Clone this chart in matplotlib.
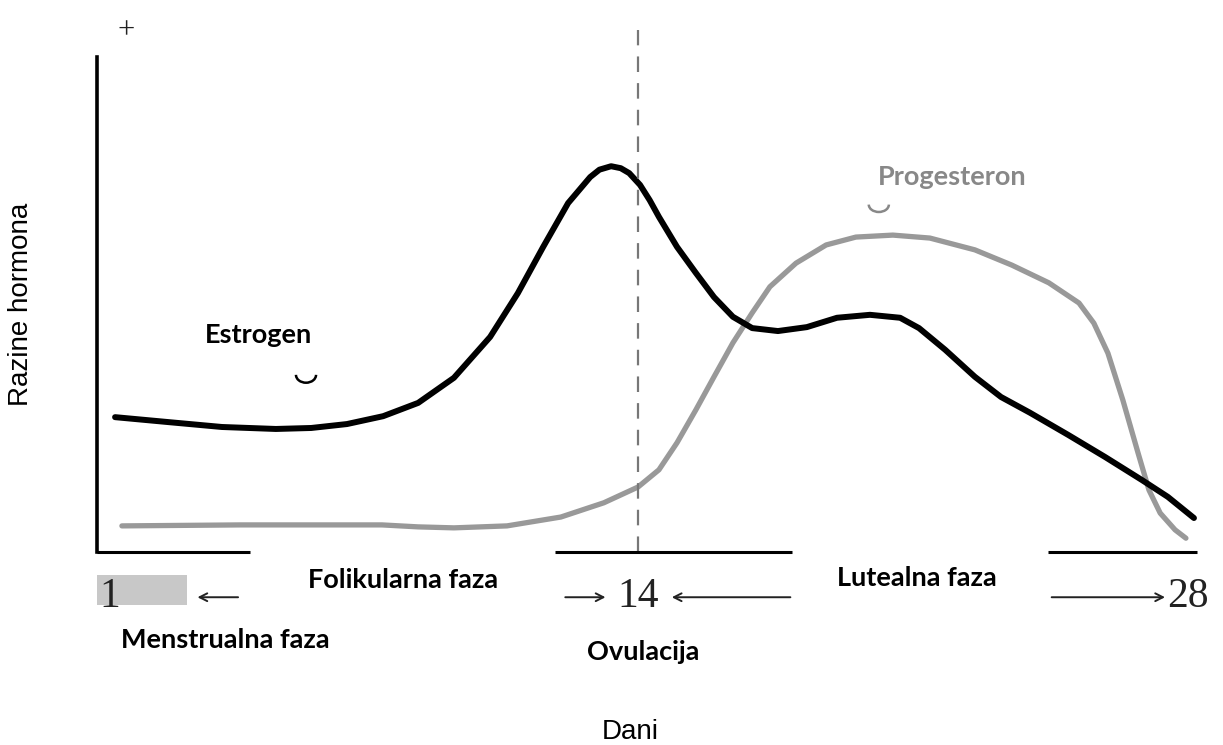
"""Hormone levels through the menstrual cycle (estrogen / progesterone)."""
import matplotlib
matplotlib.use('Agg')
import matplotlib.pyplot as plt
from matplotlib.patches import Arc

# Estrogen (black curve): day of cycle, relative level
estrogen_days = [1.00, 2.32, 3.66, 5.00, 5.88, 6.77, 7.67, 8.54, 9.43, 10.33,
                 11.02, 11.65, 12.27, 12.82, 13.05, 13.34, 13.58, 13.79, 14.06,
                 14.30, 14.53, 14.98, 15.45, 15.90, 16.37, 16.85, 17.49, 18.21,
                 18.96, 19.78, 20.53, 21.00, 21.65, 22.39, 23.04, 23.76, 24.71,
                 25.63, 26.55, 27.19, 27.84]
estrogen_level = [27.4, 26.4, 25.4, 25.0, 25.2, 26.0, 27.6, 30.3, 35.4, 43.7,
                  52.6, 62.0, 70.9, 76.2, 77.7, 78.4, 78.0, 77.0, 74.6,
                  71.5, 68.1, 62.0, 56.7, 51.8, 47.8, 45.5, 44.9, 45.7,
                  47.6, 48.2, 47.6, 45.5, 41.1, 35.6, 31.5, 28.3, 23.8,
                  19.3, 14.6, 11.2, 6.9]

# Progesterone (grey curve)
progesteron_days = [1.17, 4.11, 7.64, 8.54, 9.43, 10.75, 12.09, 13.16, 14.01,
                    14.53, 14.98, 15.45, 15.90, 16.37, 16.85, 17.29, 17.94,
                    18.69, 19.43, 20.35, 21.27, 22.39, 23.31, 24.23, 24.98,
                    25.35, 25.70, 26.07, 26.45, 26.72, 27.00, 27.37, 27.64]
progesteron_level = [5.3, 5.5, 5.5, 5.1, 4.9, 5.3, 7.1, 10.0, 13.2,
                     16.7, 22.2, 28.9, 35.6, 42.5, 48.6, 53.9, 58.7,
                     62.4, 64.0, 64.4, 63.8, 61.4, 58.3, 54.7, 50.6,
                     46.5, 40.4, 30.9, 20.1, 12.6, 7.9, 4.5, 2.8]

ovulation_day = 14
day_ticks = ['1', '14', '28']

BOLD = 'Lato'
SERIF = 'Liberation Serif'
SANS = 'Liberation Sans'
LBL = 19.5

fig = plt.figure(figsize=(12.23, 7.45), dpi=100)
ax = fig.add_axes([0.0793, 0.2591, 0.9101, 0.6644])
ax.set_xlim(0.55, 28.24)
ax.set_ylim(0, 100.6)
for side in ['top', 'right', 'bottom']:
    ax.spines[side].set_visible(False)
ax.spines['left'].set_linewidth(2.6)
ax.set_xticks([])
ax.set_yticks([])
ax.patch.set_alpha(0)

# curves
ax.plot(progesteron_days, progesteron_level, color='#999999', lw=3.8,
        solid_capstyle='round', solid_joinstyle='round')
ax.plot(estrogen_days, estrogen_level, color='black', lw=4.3,
        solid_capstyle='round', solid_joinstyle='round')

# ovulation line
ax.plot([ovulation_day, ovulation_day], [0, 106], color='#777777', lw=1.6,
        ls=(0, (7, 5)), clip_on=False)

# broken baseline
for x0, x1 in [(0.55, 4.36), (11.95, 17.84), (24.21, 27.92)]:
    ax.plot([x0, x1], [0, 0], color='black', lw=2.2, clip_on=False,
            solid_capstyle='butt')

ax.text(1.27, 106.0, '+', fontsize=22, family=SERIF, ha='center', va='center',
        color='#222222')

# leftover glyph fragments under the curve labels
ax.add_patch(Arc((5.75, 36.0), 0.5, 3.2, theta1=180, theta2=360, lw=1.8,
                 color='black', clip_on=False))
ax.add_patch(Arc((20.0, 70.6), 0.5, 3.0, theta1=180, theta2=360, lw=1.8,
                 color='#888888', clip_on=False))

# curve and phase labels
ax.text(4.56, 44.1, 'Estrogen', fontsize=LBL, fontweight='bold', family=BOLD,
        ha='center', va='center')
ax.text(21.82, 76.2, 'Progesteron', fontsize=LBL, fontweight='bold', family=BOLD,
        color='#888888', ha='center', va='center')
ax.text(8.16, -5.7, 'Folikularna faza', fontsize=LBL, fontweight='bold',
        family=BOLD, ha='center', va='center', clip_on=False)
ax.text(20.95, -5.3, 'Lutealna faza', fontsize=LBL, fontweight='bold',
        family=BOLD, ha='center', va='center', clip_on=False)
ax.text(3.74, -17.9, 'Menstrualna faza', fontsize=LBL, fontweight='bold',
        family=BOLD, ha='center', va='center', clip_on=False)
ax.text(14.13, -20.3, 'Ovulacija', fontsize=LBL, fontweight='bold', family=BOLD,
        ha='center', va='center', clip_on=False)

# day markers
ax.add_patch(plt.Rectangle((0.55, -10.8), 2.24, 6.1, color='#c8c8c8',
                           clip_on=False, lw=0))
ax.text(0.62, -9.2, day_ticks[0], fontsize=30, family=SERIF, ha='left',
        va='center', color='#222222')
ax.text(14.0, -9.2, day_ticks[1], fontsize=30, family=SERIF, ha='center',
        va='center', color='#222222')
ax.text(27.18, -9.2, day_ticks[2], fontsize=30, family=SERIF, ha='left',
        va='center', color='#222222')

arrow = dict(arrowstyle='->,head_length=0.55,head_width=0.28', color='#222222',
             lw=1.4, shrinkA=0, shrinkB=0)
ax.annotate('', xy=(3.05, -9.2), xytext=(4.06, -9.2), arrowprops=arrow,
            annotation_clip=False)
ax.annotate('', xy=(13.2, -9.2), xytext=(12.2, -9.2), arrowprops=arrow,
            annotation_clip=False)
ax.annotate('', xy=(14.85, -9.2), xytext=(17.8, -9.2), arrowprops=arrow,
            annotation_clip=False)
ax.annotate('', xy=(27.12, -9.2), xytext=(24.3, -9.2), arrowprops=arrow,
            annotation_clip=False)

fig.text(21 / 1223, 1 - 304 / 745, 'Razine hormona', rotation=90, fontsize=20,
         family=SANS, ha='center', va='center')
fig.text(630 / 1223, 1 - 732 / 745, 'Dani', fontsize=20, family=SANS,
         ha='center', va='center')

fig.savefig('out.png', dpi=100)
